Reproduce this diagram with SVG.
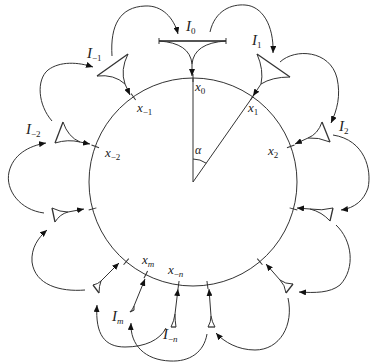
<svg xmlns="http://www.w3.org/2000/svg" width="371" height="364" viewBox="0 0 371 364">
<style>
.s{fill:none;stroke:#333;stroke-width:1}
.iv{fill:none;stroke:#333;stroke-width:1.3}
.a{fill:none;stroke:#333;stroke-width:1;marker-end:url(#ah)}
.t{font-family:"Liberation Serif",serif;font-style:italic;fill:#222}
.sub{font-size:9px;font-style:italic}
.subn{font-size:9px;font-style:normal}
</style>
<defs>
<marker id="ah" markerUnits="userSpaceOnUse" markerWidth="8" markerHeight="6" refX="7" refY="3" orient="auto">
<path d="M0,0 L7,3 L0,6 Z" fill="#111"/>
</marker>
</defs>
<g id="circle">
<circle cx="193" cy="182" r="104" class="s"/>
<line x1="193" y1="78" x2="193" y2="182" class="s"/>
<line x1="193" y1="182" x2="252.7" y2="96.8" class="s"/>
<path d="M193,159 A23,23 0 0 1 206.2,163.2" class="s"/>
<g class="s">
<line x1="193" y1="74" x2="193" y2="82"/>
<line x1="193" y1="74" x2="193" y2="82" transform="rotate(35 193 182)"/>
<line x1="193" y1="74" x2="193" y2="82" transform="rotate(70 193 182)"/>
<line x1="193" y1="74" x2="193" y2="82" transform="rotate(105 193 182)"/>
<line x1="193" y1="74" x2="193" y2="82" transform="rotate(140 193 182)"/>
<line x1="193" y1="74" x2="193" y2="82" transform="rotate(172 193 182)"/>
<line x1="193" y1="74" x2="193" y2="82" transform="rotate(-35 193 182)"/>
<line x1="193" y1="74" x2="193" y2="82" transform="rotate(-70 193 182)"/>
<line x1="193" y1="74" x2="193" y2="82" transform="rotate(-105 193 182)"/>
<line x1="193" y1="74" x2="193" y2="82" transform="rotate(-140 193 182)"/>
<line x1="193" y1="74" x2="193" y2="82" transform="rotate(-153 193 182)"/>
<line x1="193" y1="74" x2="193" y2="82" transform="rotate(-172 193 182)"/>
</g>
<text class="t" x="195" y="154" font-size="12">α</text>
</g>
<g id="points" class="t" font-size="13">
<text x="195" y="91">x<tspan class="subn" dy="3">0</tspan></text>
<text x="248" y="112">x<tspan class="subn" dy="3">1</tspan></text>
<text x="268" y="155">x<tspan class="subn" dy="3">2</tspan></text>
<text x="137" y="112">x<tspan class="subn" dy="3">−1</tspan></text>
<text x="105" y="157">x<tspan class="subn" dy="3">−2</tspan></text>
<text x="142" y="264">x<tspan class="sub" dy="3">m</tspan></text>
<text x="168" y="274">x<tspan class="subn" dy="3">−</tspan><tspan class="sub">n</tspan></text>
</g>
<g id="I0">
<line x1="159" y1="41" x2="226" y2="41" stroke="#555" stroke-width="2"/>
<line x1="159" y1="38" x2="159" y2="44" class="s"/>
<line x1="226" y1="38" x2="226" y2="44" class="s"/>
<path d="M159,41 Q190,43 192,64 M226,41 Q194,43 192,64" class="s"/>
<line x1="192" y1="64" x2="192" y2="76" class="a"/>
<text class="t" x="186" y="31" font-size="15">I<tspan class="subn" font-size="10" dy="3">0</tspan></text>
</g>
<g id="I1">
<line x1="257" y1="54" x2="290" y2="77" class="iv"/>
<path d="M257,54 Q264,70 261,84 M290,77 Q272,77 261,84" class="s"/>
<line x1="261" y1="84" x2="253" y2="96" class="a"/>
<text class="t" x="252" y="45" font-size="15">I<tspan class="subn" font-size="10" dy="3">1</tspan></text>
</g>
<g id="I2">
<line x1="322" y1="122" x2="330" y2="142" class="iv"/>
<path d="M322,122 Q318,134 308,138 M330,142 Q318,137 308,138" class="s"/>
<line x1="308" y1="138" x2="295" y2="144" class="a"/>
<text class="t" x="339" y="131" font-size="15">I<tspan class="subn" font-size="10" dy="3">2</tspan></text>
</g>
<g id="I3">
<line x1="333" y1="208" x2="330" y2="221" class="iv"/>
<path d="M333,208 Q322,211 310,209 M330,221 Q322,212 310,209" class="s"/>
<line x1="310" y1="209" x2="297" y2="208" class="a"/>
</g>
<g id="I4">
<line x1="293" y1="284" x2="286" y2="293" class="iv"/>
<path d="M293,284 Q285,284 280,280 M286,293 Q285,285 280,280" class="s"/>
<line x1="280" y1="280" x2="266" y2="264" class="a"/>
</g>
<g id="I5">
<line x1="208" y1="327" x2="215" y2="327" class="iv"/>
<path d="M208,327 Q211,322 211,316 M215,327 Q212,322 211,316" class="s"/>
<line x1="211" y1="316" x2="209" y2="289" class="a"/>
</g>
<g id="Im">
<line x1="130" y1="312" x2="134" y2="310" class="iv"/>
<path d="M130,312 Q133,309 134,306 M134,310 Q134,308 134,306" class="s"/>
<line x1="134" y1="306" x2="145" y2="279" class="a"/>
<text class="t" x="112" y="321" font-size="15">I<tspan class="sub" font-size="10" dy="3">m</tspan></text>
</g>
<g id="I-n">
<line x1="171" y1="327" x2="176" y2="327" class="iv"/>
<path d="M171,327 Q174,321 175,314 M176,327 Q175,321 175,314" class="s"/>
<line x1="175" y1="314" x2="178" y2="289" class="a"/>
<text class="t" x="163" y="339" font-size="15">I<tspan class="subn" font-size="10" dy="3">−</tspan><tspan class="sub" font-size="10">n</tspan></text>
</g>
<g id="I-4">
<line x1="93" y1="285" x2="99" y2="293" class="iv"/>
<path d="M93,285 Q98,284 101,281 M99,293 Q99,286 101,281" class="s"/>
<line x1="101" y1="281" x2="119" y2="263" class="a"/>
</g>
<g id="I-3">
<line x1="52" y1="208" x2="55" y2="222" class="iv"/>
<path d="M52,208 Q60,212 68,212 M55,222 Q60,214 68,212" class="s"/>
<line x1="68" y1="212" x2="84" y2="209" class="a"/>
</g>
<g id="I-2">
<line x1="63" y1="122" x2="55" y2="143" class="iv"/>
<path d="M63,122 Q68,137 80,142 M55,143 Q68,139 80,142" class="s"/>
<line x1="80" y1="142" x2="90" y2="144" class="a"/>
<text class="t" x="26" y="134" font-size="15">I<tspan class="subn" font-size="10" dy="3">−2</tspan></text>
</g>
<g id="I-1">
<line x1="97" y1="76" x2="128" y2="54" class="iv"/>
<path d="M97,76 Q114,74 125,84 M128,54 Q120,70 125,84" class="s"/>
<line x1="125" y1="84" x2="130" y2="95" class="a"/>
<text class="t" x="87" y="58" font-size="15">I<tspan class="subn" font-size="10" dy="3">−1</tspan></text>
</g>
<g id="connectors">
<path d="M112,56 C110,25 120,7 145,6 C162,5 174,18 178,34" class="a"/>
<path d="M210,32 C215,10 232,4 245,5 C262,6 274,25 273,53" class="a"/>
<path d="M280,62 C295,48 330,50 337,78 C341,96 337,110 331,123" class="a"/>
<path d="M333,135 C365,140 372,170 368,188 C364,200 355,208 341,210" class="a"/>
<path d="M336,225 C352,240 356,268 340,285 C330,293 315,293 299,292" class="a"/>
<path d="M288,298 C294,325 280,350 255,350 C238,350 224,342 216,333" class="a"/>
<path d="M207,334 C204,352 190,362 170,361 C145,360 130,345 131,323" class="a"/>
<path d="M166,328 C160,340 145,347 125,347 C105,347 95,335 97,305" class="a"/>
<path d="M85,290 C60,292 35,285 32,262 C31,248 38,238 47,230" class="a"/>
<path d="M44,213 C20,210 5,190 9,172 C13,155 28,146 46,143" class="a"/>
<path d="M52,121 C38,105 36,80 48,70 C60,61 78,62 93,67" class="a"/>
</g>
</svg>
